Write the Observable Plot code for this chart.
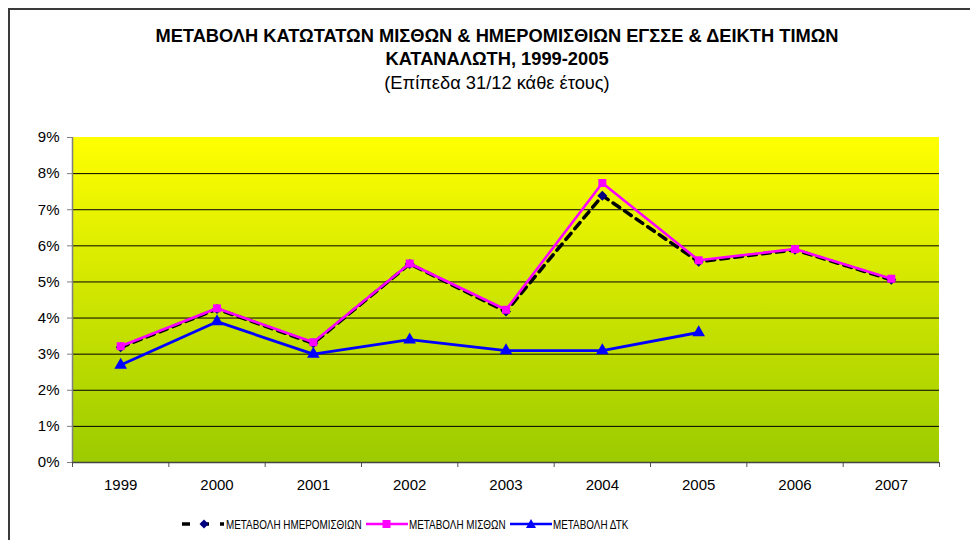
<!DOCTYPE html>
<html>
<head>
<meta charset="utf-8">
<script src="https://cdn.jsdelivr.net/npm/d3@7"></script>
<script src="https://cdn.jsdelivr.net/npm/@observablehq/plot@0.6"></script>
<style>
  html, body { margin: 0; padding: 0; background: #fff; overflow: hidden; }
  #wrap { position: relative; width: 970px; height: 540px; font-family: "Liberation Sans", Arial, sans-serif; }
  #frameBox { position: absolute; left: 8px; top: 8px; width: 1200px; height: 1200px; border-left: 2px solid #3a3a3a; border-top: 2px solid #3a3a3a; box-sizing: border-box; }
  #titles { position: absolute; left: 0; top: 0; width: 994px; text-align: center; color: #000; }
  #titles div { position: absolute; left: 0; right: 0; line-height: 1.15; white-space: nowrap; }
  #t1 { top: 25px; font-weight: bold; font-size: 18.3px; }
  #t2 { top: 48px; font-weight: bold; font-size: 18.3px; }
  #t3 { top: 72px; font-size: 18.3px; }
  #chart { position: absolute; left: 0; top: 0; }
  #chart svg text { font-size: 15px !important; }
  #legend { position: absolute; left: 0; top: 516px; width: 970px; font-size: 13px; color: #000; }
  .li { position: absolute; top: 0; display: flex; align-items: center; height: 16px; white-space: nowrap; }
  .li svg { display: block; }
  .li span { display: inline-block; transform: scaleX(0.76); transform-origin: left center; }
</style>
</head>
<body>
<div id="wrap">
  <div id="frameBox"></div>
  <div id="titles">
    <div id="t1"></div>
    <div id="t2"></div>
    <div id="t3"></div>
  </div>
  <div id="chart"></div>
  <div id="legend"></div>
</div>
<script>
// ---- Data ----
const titleLine1 = "ΜΕΤΑΒΟΛΗ ΚΑΤΩΤΑΤΩΝ ΜΙΣΘΩΝ & ΗΜΕΡΟΜΙΣΘΙΩΝ ΕΓΣΣΕ & ΔΕΙΚΤΗ ΤΙΜΩΝ";
const titleLine2 = "ΚΑΤΑΝΑΛΩΤΗ, 1999-2005";
const subtitle = "(Επίπεδα 31/12 κάθε έτους)";

const years = [1999, 2000, 2001, 2002, 2003, 2004, 2005, 2006, 2007];
const dailyWages = [3.19, 4.25, 3.30, 5.50, 4.18, 7.39, 5.56, 5.89, 5.06];   // ΜΕΤΑΒΟΛΗ ΗΜΕΡΟΜΙΣΘΙΩΝ
const salaries   = [3.22, 4.27, 3.33, 5.51, 4.23, 7.74, 5.60, 5.91, 5.09];   // ΜΕΤΑΒΟΛΗ ΜΙΣΘΩΝ
const cpiYears   = [1999, 2000, 2001, 2002, 2003, 2004, 2005];
const cpi        = [2.7, 3.9, 3.0, 3.4, 3.1, 3.1, 3.6];                      // ΜΕΤΑΒΟΛΗ ΔΤΚ

const yTicks = [0, 1, 2, 3, 4, 5, 6, 7, 8, 9];
const gridLines = [1, 2, 3, 4, 5, 6, 7, 8];
const xBoundaries = [1998.5, 1999.5, 2000.5, 2001.5, 2002.5, 2003.5, 2004.5, 2005.5, 2006.5, 2007.5];

const seriesNames = ["ΜΕΤΑΒΟΛΗ ΗΜΕΡΟΜΙΣΘΙΩΝ", "ΜΕΤΑΒΟΛΗ ΜΙΣΘΩΝ", "ΜΕΤΑΒΟΛΗ ΔΤΚ"];

// ---- Build tables ----
const dailyData = years.map((yr, i) => ({year: yr, value: dailyWages[i]}));
const salaryData = years.map((yr, i) => ({year: yr, value: salaries[i]}));
const cpiData = cpiYears.map((yr, i) => ({year: yr, value: cpi[i]}));

document.getElementById("t1").textContent = titleLine1;
document.getElementById("t2").textContent = titleLine2;
document.getElementById("t3").textContent = subtitle;

// gradient background drawn over the plot frame
function gradientBg(index, scales, values, dims) {
  const g = d3.create("svg:g");
  const grad = g.append("defs").append("linearGradient")
    .attr("id", "bgGrad").attr("x1", 0).attr("y1", 0).attr("x2", 0).attr("y2", 1);
  grad.append("stop").attr("offset", "0%").attr("stop-color", "#FFFF00");
  grad.append("stop").attr("offset", "100%").attr("stop-color", "#9CCB00");
  g.append("rect")
    .attr("x", dims.marginLeft)
    .attr("y", dims.marginTop)
    .attr("width", dims.width - dims.marginLeft - dims.marginRight)
    .attr("height", dims.height - dims.marginTop - dims.marginBottom)
    .attr("fill", "url(#bgGrad)");
  return g.node();
}

const chart = Plot.plot({
  width: 970,
  height: 540,
  marginTop: 137,
  marginBottom: 78,
  marginLeft: 72,
  marginRight: 31,
  style: {fontFamily: "'Liberation Sans', Arial, sans-serif", fontSize: "15px", color: "#000", background: "transparent", overflow: "visible"},
  x: {type: "linear", domain: [xBoundaries[0], xBoundaries[xBoundaries.length - 1]]},
  y: {domain: [0, 9]},
  marks: [
    gradientBg,
    Plot.ruleY(gridLines, {stroke: "#000", strokeWidth: 1}),
    Plot.axisY(yTicks, {tickSize: 5, tickPadding: 8, tickFormat: d => d + "%", label: null, stroke: "#808080", fontSize: 15}),
    Plot.axisX(years, {tickSize: 0, tickPadding: 17, tickFormat: d => String(d), label: null, fontSize: 15}),
    Plot.axisX(xBoundaries, {tickSize: 5, tickFormat: () => "", label: null, stroke: "#555"}),
    Plot.ruleX([xBoundaries[0]], {stroke: "#808080", strokeWidth: 1.5}),
    Plot.ruleY([0], {stroke: "#444", strokeWidth: 1.5}),
    // ΜΕΤΑΒΟΛΗ ΗΜΕΡΟΜΙΣΘΙΩΝ
    Plot.line(dailyData, {x: "year", y: "value", stroke: "#000", strokeWidth: 3.5, strokeDasharray: "8,6"}),
    Plot.dot(dailyData, {x: "year", y: "value", symbol: "diamond2", r: 4.5, fill: "#000080", stroke: "none"}),
    // ΜΕΤΑΒΟΛΗ ΜΙΣΘΩΝ
    Plot.line(salaryData, {x: "year", y: "value", stroke: "#FF00FF", strokeWidth: 2.6}),
    Plot.dot(salaryData, {x: "year", y: "value", symbol: "square", r: 4.5, fill: "#FF00FF", stroke: "none"}),
    // ΜΕΤΑΒΟΛΗ ΔΤΚ
    Plot.line(cpiData, {x: "year", y: "value", stroke: "#0000FF", strokeWidth: 2.8}),
    Plot.dot(cpiData, {x: "year", y: "value", symbol: "triangle", r: 4.7, fill: "#0000FF", stroke: "none"})
  ]
});
document.getElementById("chart").appendChild(chart);

// ---- Legend ----
const legend = document.getElementById("legend");
function addItem(left, swatchSvg, name) {
  const el = document.createElement("div");
  el.className = "li";
  el.style.left = left + "px";
  el.innerHTML = swatchSvg + "<span>" + name + "</span>";
  legend.appendChild(el);
}
addItem(180,
  '<svg width="46" height="16"><line x1="2" y1="8" x2="44" y2="8" stroke="#000" stroke-width="3.5" stroke-dasharray="8,11"/>' +
  '<path d="M24,3.5 L28.5,8 L24,12.5 L19.5,8 Z" fill="#000080"/></svg>', seriesNames[0]);
addItem(365,
  '<svg width="44" height="16"><line x1="1" y1="8" x2="43" y2="8" stroke="#FF00FF" stroke-width="2.5"/>' +
  '<rect x="17.5" y="4" width="8" height="8" fill="#FF00FF"/></svg>', seriesNames[1]);
addItem(509,
  '<svg width="44" height="16"><line x1="1" y1="8" x2="43" y2="8" stroke="#0000FF" stroke-width="2.5"/>' +
  '<path d="M22,3 L27,12 L17,12 Z" fill="#0000FF"/></svg>', seriesNames[2]);
</script>
</body>
</html>
